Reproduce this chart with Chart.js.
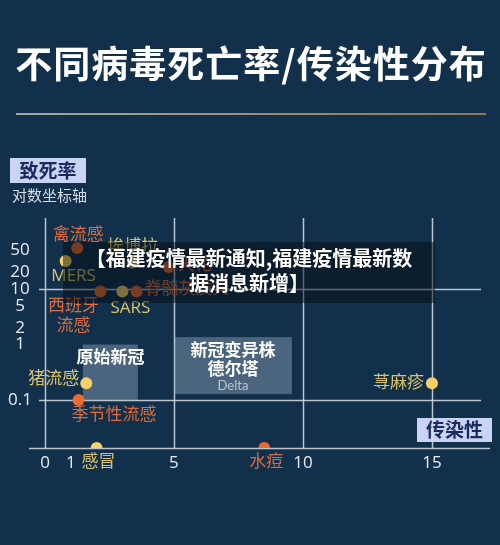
<!DOCTYPE html>
<html><head><meta charset="utf-8">
<script src="https://cdn.jsdelivr.net/npm/chart.js@4/dist/chart.umd.min.js"></script>
<style>
html,body{margin:0;padding:0;background:#12304b;width:500px;height:545px;overflow:hidden}
#wrap{position:relative;width:500px;height:545px}
#banner{position:absolute;left:63px;top:242px;width:372px;height:61px;background:rgba(4,12,20,0.5);color:#fff;font-weight:bold;font-size:20px;font-family:'Noto Sans CJK SC';line-height:25px;text-align:center;padding-top:3px;box-sizing:border-box;text-shadow:0 0 2px rgba(0,0,0,0.6)}
</style></head><body>
<div id="wrap"><canvas id="c" width="500" height="545"></canvas>
<div id="banner">【福建疫情最新通知,福建疫情最新数<br>据消息新增】</div></div>
<script>
// ---- text ----
const chartTitle = '不同病毒死亡率/传染性分布';
const yAxisTitle = '致死率';
const yAxisSubtitle = '对数坐标轴';
const xAxisTitle = '传染性';

// ---- data ----
const virusNames = ['禽流感','MERS','埃博拉','天花','西班牙流感','SARS','脊髓灰质炎','猪流感','季节性流感','感冒','水痘','荨麻疹'];
const transmissibility = [1.25, 0.8, 3.4, 4.8, 2.15, 3.0, 3.55, 1.6, 1.3, 2.0, 8.5, 15];
const fatalityRate = [55, 32, 30, 25, 9, 9, 9, 0.2, 0.1, 0.0137, 0.0137, 0.2];
const colorGroup = ['orange','yellow','yellow','orange','orange','yellow','orange','yellow','orange','yellow','orange','yellow'];

const xTickValues = [0, 1, 5, 10, 15];
const yTickValues = [0.1, 1, 2, 5, 10, 20, 50];
const xGridValues = [0, 5, 10, 15];
const yGridValues = [0.1, 10];

const regionLines = [['原始新冠'], ['新冠变异株','德尔塔','Delta']];
const regionXFrom = [1.47, 5];
const regionXTo = [3.6, 9.57];
const regionYFrom = [0.1, 0.128];
const regionYTo = [1.0, 1.36];

// ---- styles / placement ----
const palette = {
  orange: {dot:'#ea6a30', text:'#dc6c3c'},
  yellow: {dot:'#f6d167', text:'#d9c46c'}
};
const labelPlacement = {
  '禽流感':   {dx:1,  dy:-13, align:'center'},
  'MERS':     {dx:8,  dy:15,  align:'center'},
  '埃博拉':   {dx:0,  dy:-15, align:'center'},
  '天花':     {dx:9,  dy:-2,  align:'left'},
  '西班牙流感':{dx:-27,dy:15, align:'center', lines:['西班牙','流感'], lh:20},
  'SARS':     {dx:8,  dy:17,  align:'center'},
  '脊髓灰质炎':{dx:8,  dy:-2,  align:'left'},
  '猪流感':   {dx:-7, dy:-4,  align:'right'},
  '季节性流感':{dx:-7, dy:15,  align:'left'},
  '感冒':     {dx:2,  dy:14,  align:'center'},
  '水痘':     {dx:2,  dy:14,  align:'center'},
  '荨麻疹':   {dx:-8, dy:0,   align:'right'}
};
const FONT_LATIN = '"Open Sans","Noto Sans CJK SC",sans-serif';
const FONT_CJK = '"Noto Sans CJK SC",sans-serif';
const GRID = 'rgba(215,224,233,0.85)';

const decor = {
  id:'decor',
  beforeDatasetsDraw(chart){
    const {ctx, chartArea:a, scales:{x, y}} = chart;
    ctx.save();
    // title
    ctx.fillStyle = '#ffffff';
    ctx.font = 'bold 37px ' + FONT_CJK;
    ctx.textAlign = 'center'; ctx.textBaseline = 'middle';
    if (ctx.letterSpacing !== undefined) ctx.letterSpacing = '1px';
    ctx.fillText(chartTitle, 251, 64);
    if (ctx.letterSpacing !== undefined) ctx.letterSpacing = '0px';
    // gold rule
    const g = ctx.createLinearGradient(16,0,486,0);
    g.addColorStop(0,'#cfd4b4'); g.addColorStop(1,'#b39350');
    ctx.strokeStyle = g; ctx.lineWidth = 1.6;
    ctx.beginPath(); ctx.moveTo(16,114); ctx.lineTo(486,114); ctx.stroke();
    // y axis title box
    ctx.fillStyle = '#c9d3f6'; ctx.fillRect(10,158,76,25);
    ctx.fillStyle = '#1b2a5c'; ctx.font = 'bold 19px ' + FONT_CJK;
    ctx.fillText(yAxisTitle, 48, 170.5);
    ctx.fillStyle = '#d5dde6'; ctx.font = '15px ' + FONT_CJK; ctx.textAlign='left';
    ctx.fillText(yAxisSubtitle, 12, 195);
    // x axis title box
    ctx.fillStyle = '#c9d3f6'; ctx.fillRect(417,418,75,24);
    ctx.fillStyle = '#1b2a5c'; ctx.font = 'bold 19px ' + FONT_CJK; ctx.textAlign='center';
    ctx.fillText(xAxisTitle, 454.5, 430);

    // vertical grid
    ctx.strokeStyle = GRID; ctx.lineWidth = 1.5;
    xGridValues.forEach(v=>{
      const px = Math.round(x.getPixelForValue(v))+0.5;
      ctx.beginPath(); ctx.moveTo(px, a.top); ctx.lineTo(px, a.bottom); ctx.stroke();
    });
    // horizontal reference lines
    const x0 = x.getPixelForValue(0);
    yGridValues.forEach(v=>{
      const py = Math.round(y.getPixelForValue(v))+0.5;
      ctx.beginPath(); ctx.moveTo(x0-6, py); ctx.lineTo(a.right-9, py); ctx.stroke();
    });
    // x axis line
    ctx.beginPath(); ctx.moveTo(a.left, a.bottom+0.5); ctx.lineTo(a.right, a.bottom+0.5); ctx.stroke();

    // regions
    regionLines.forEach((lines,i)=>{
      const l = x.getPixelForValue(regionXFrom[i]), r = x.getPixelForValue(regionXTo[i]);
      const t = y.getPixelForValue(regionYTo[i]), b = y.getPixelForValue(regionYFrom[i]);
      ctx.fillStyle = 'rgba(170,190,210,0.38)';
      ctx.fillRect(l, t, r-l, b-t);
      const cx = (l+r)/2;
      ctx.textAlign='center'; ctx.textBaseline='middle';
      lines.forEach((s,k)=>{
        if (/^[A-Za-z]+$/.test(s)) { ctx.font = '13px "Lato",sans-serif'; ctx.fillStyle='#b9c5d1'; ctx.fillText(s, cx, t+12+k*18.5); }
        else { ctx.font = 'bold 17px ' + FONT_CJK; ctx.fillStyle='#ffffff'; ctx.fillText(s, cx, t+12+k*19); }
      });
    });
    ctx.restore();
  },
  afterDatasetsDraw(chart){
    const {ctx, scales:{x, y}} = chart;
    ctx.save();
    ctx.textBaseline = 'middle';
    // tick labels
    ctx.fillStyle = '#e6ecf2'; ctx.font = '17px ' + FONT_LATIN; ctx.textAlign='center';
    xTickValues.forEach(v=> ctx.fillText(String(v), x.getPixelForValue(v), 463));
    yTickValues.forEach(v=> ctx.fillText(String(v), 20, y.getPixelForValue(v)));
    // point labels
    ctx.font = '17px ' + FONT_LATIN;
    virusNames.forEach((n,i)=>{
      const p = labelPlacement[n]; if(!p) return;
      const px = x.getPixelForValue(transmissibility[i]);
      const py = y.getPixelForValue(fatalityRate[i]);
      ctx.fillStyle = palette[colorGroup[i]].text;
      ctx.textAlign = p.align;
      const lines = p.lines || [n];
      lines.forEach((s,k)=> ctx.fillText(s, px+p.dx, py+p.dy+k*(p.lh||20)));
    });
    ctx.restore();
  }
};

new Chart(document.getElementById('c'), {
  type:'scatter',
  data:{datasets:[{
    data: virusNames.map((n,i)=>({x:transmissibility[i], y:fatalityRate[i]})),
    backgroundColor: colorGroup.map(c=>palette[c].dot),
    borderWidth:0, pointRadius:6, pointHoverRadius:6
  }]},
  options:{
    responsive:false, animation:false,
    layout:{padding:{left:29, right:10, top:218, bottom:97}},
    plugins:{legend:{display:false}, tooltip:{enabled:false}},
    scales:{
      x:{type:'linear', min:-0.62, max:17.25, display:false},
      y:{type:'logarithmic', min:0.0137, max:190, display:false}
    }
  },
  plugins:[decor]
});
</script>
</body></html>
